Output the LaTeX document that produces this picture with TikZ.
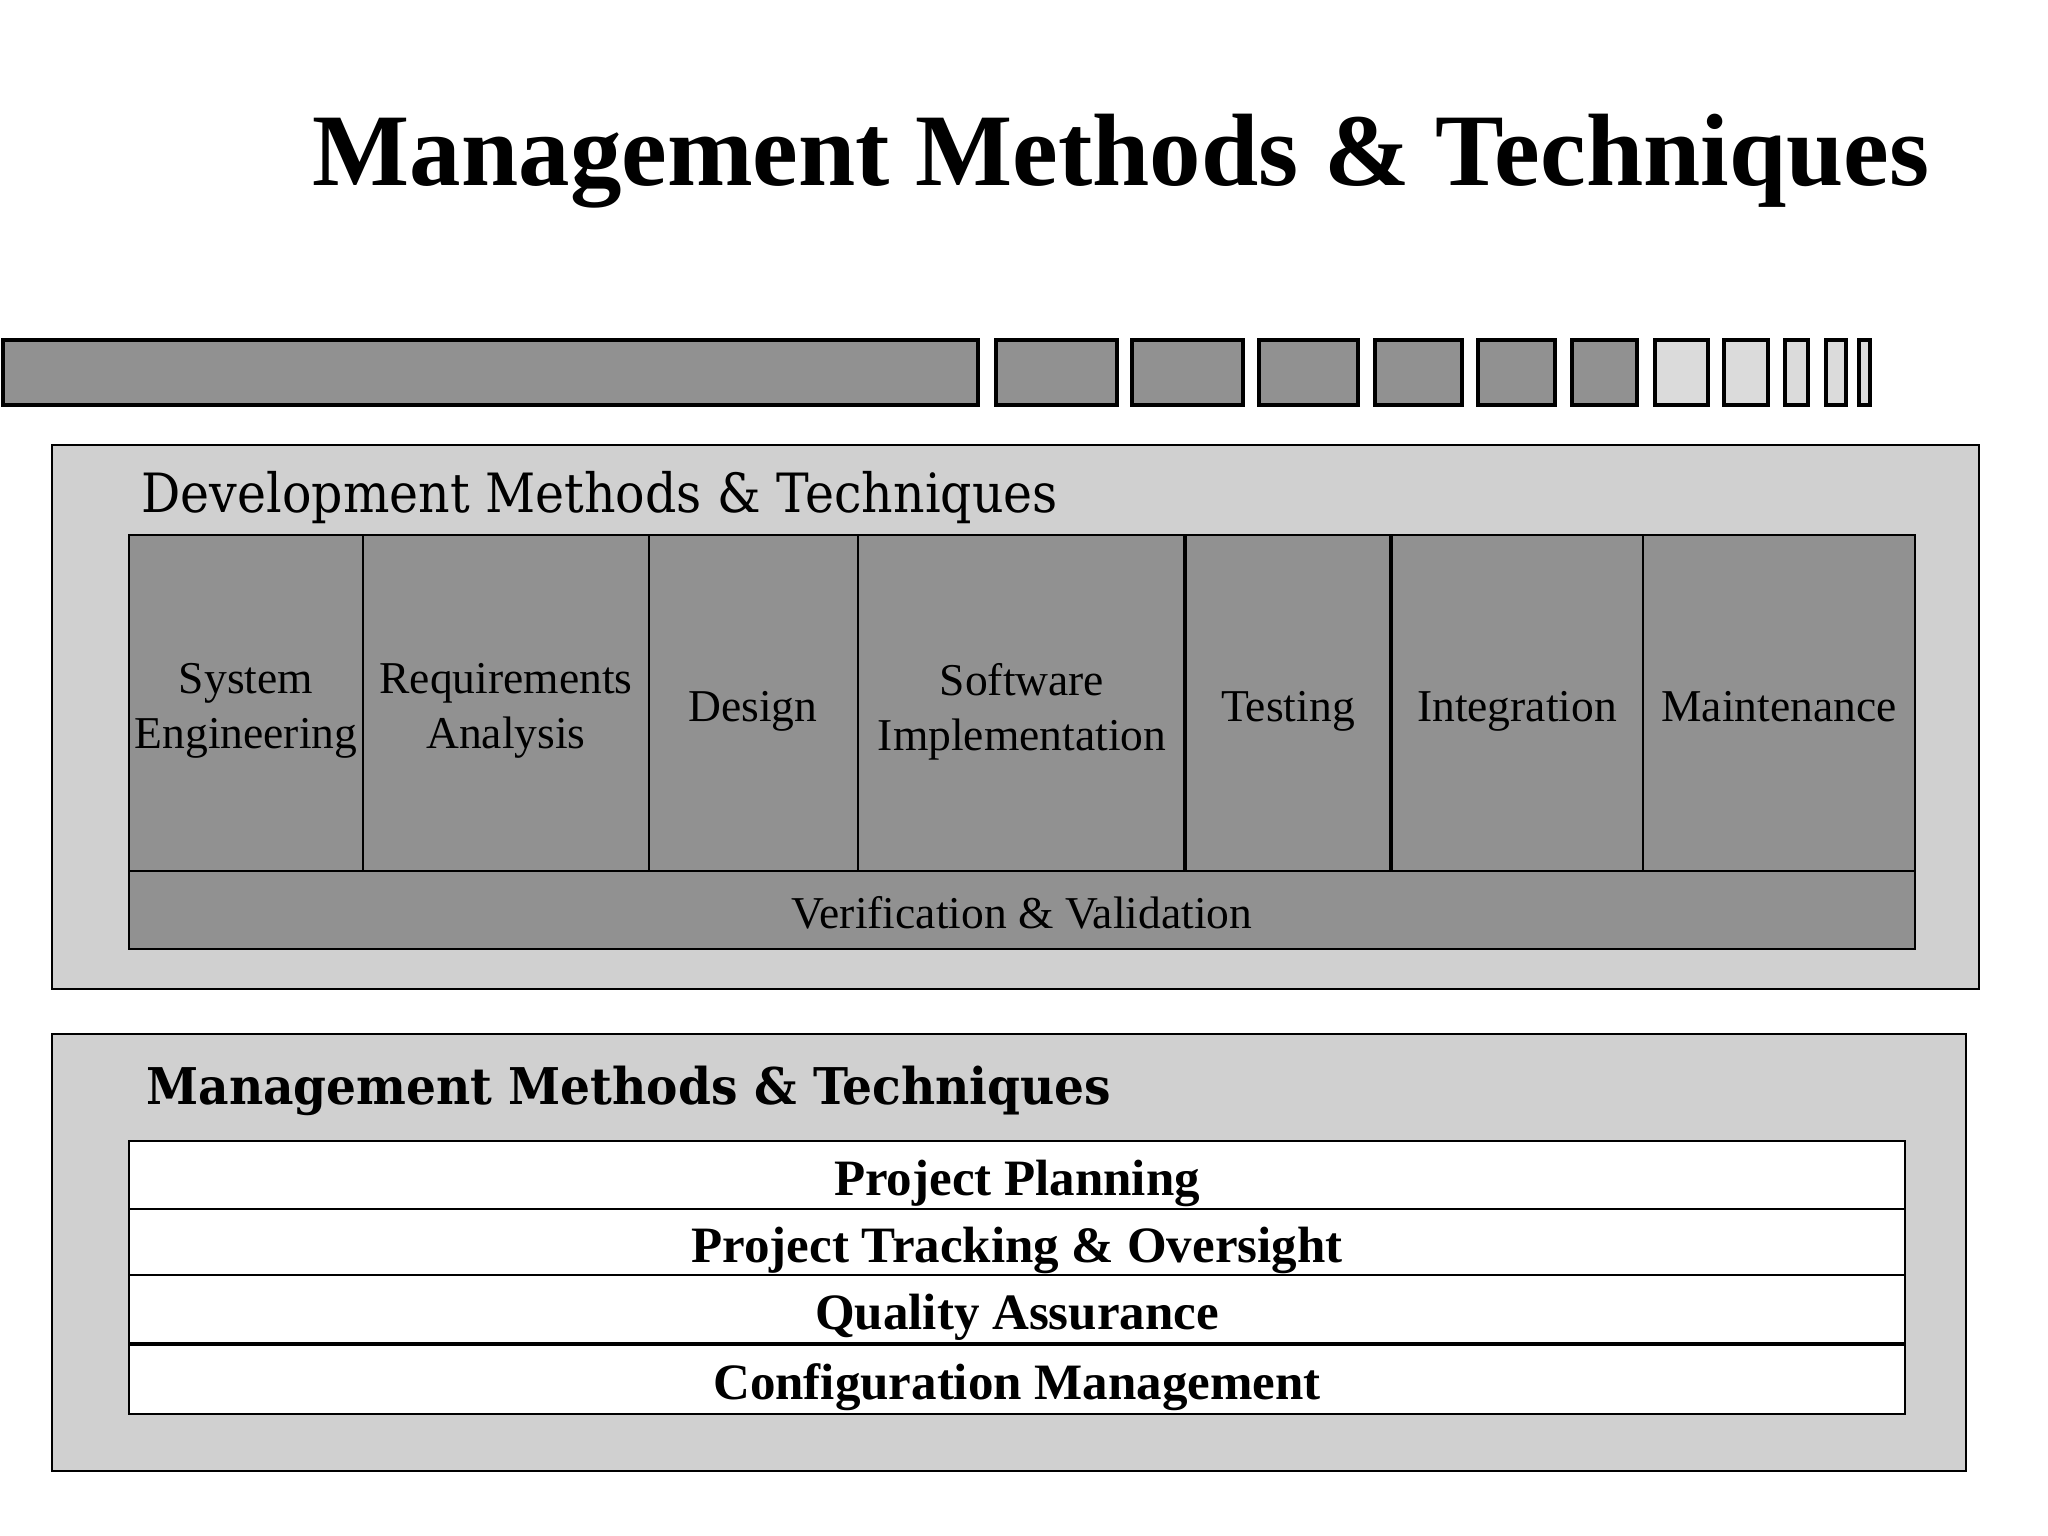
\documentclass[tikz,border=0pt]{standalone}
\usepackage{fontspec}
\setmainfont{Liberation Serif}
\newfontfamily\schfont[FakeStretch=0.905]{DejaVu Serif}
\newfontfamily\schboldfont[FakeStretch=0.93]{DejaVu Serif Bold}
\usetikzlibrary{positioning}

\definecolor{boxgray}{gray}{0.57}
\definecolor{panelgray}{gray}{0.815}
\definecolor{palegray}{gray}{0.86}

\begin{document}
\begin{tikzpicture}[x=0.01cm, y=-0.01cm,
  dark/.style={draw=black, fill=boxgray, line width=0.9pt},
  light/.style={draw=black, fill=palegray, line width=0.9pt},
  panel/.style={draw=black, fill=panelgray, line width=0.7pt},
  cell/.style={draw=black, fill=boxgray, line width=0.7pt},
  row/.style={draw=black, fill=white, line width=0.7pt},
  celltext/.style={align=center, font=\fontsize{12.95}{15.6}\selectfont},
  rowtext/.style={font=\bfseries\fontsize{14.5}{16}\selectfont}]

\useasboundingbox (0,0) rectangle (2048,1536);

% title
\node[anchor=base, font=\bfseries\fontsize{29.25}{34}\selectfont] (title) at (1121,185)
  {Management Methods \& Techniques};

% strip of blocks
\foreach \a/\b in {3/978, 996/1117, 1132/1243, 1259/1358, 1375/1462, 1478/1555, 1572/1637}
  \draw[dark] (\a,340) rectangle (\b,405);
\foreach \a/\b in {1655/1708, 1724/1768, 1785/1808, 1826/1846, 1859/1870}
  \draw[light] (\a,340) rectangle (\b,405);

% development panel
\draw[panel] (52,445) rectangle (1979,989);
\node[anchor=base west, font=\schfont\fontsize{15.4}{18}\selectfont] (devtitle) at (129,512)
  {Development Methods \& Techniques};
\draw[cell] (129,535) rectangle (1915,949);
\draw[cell] (129,871) -- (1915,871);
\foreach \x in {363, 649, 858, 1643}
  \draw[cell] (\x,535) -- (\x,871);
\foreach \x in {1185, 1391}
  \draw[cell, line width=1.2pt] (\x,535) -- (\x,871);

\node[celltext] (syseng) at (246,711) {System\\Engineering};
\node[celltext] (reqan) at (506,711) {Requirements\\Analysis};
\node[celltext] (design) at (753,711) {Design};
\node[celltext] (swimpl) at (1022,712) {Software\\Implementation};
\node[celltext] (testing) at (1288,711) {Testing};
\node[celltext] (integr) at (1517,711) {Integration};
\node[celltext] (maint) at (1779,707) {Maintenance};
\node[celltext] (vandv) at (1022,913) {Verification \& Validation};

% management panel
\draw[panel] (52,1034) rectangle (1966,1471);
\node[anchor=base west, font=\schboldfont\fontsize{14.4}{17}\selectfont] (mgttitle) at (134,1104)
  {Management Methods \& Techniques};
\draw[row] (129,1141) rectangle (1905,1414);
\foreach \y in {1209, 1275}
  \draw[row] (129,\y) -- (1905,\y);
\draw[row, line width=1.2pt] (129,1344) -- (1905,1344);

\node[rowtext] (planning) at (1017,1183) {Project Planning};
\node[rowtext] (tracking) at (1017,1250) {Project Tracking \& Oversight};
\node[rowtext] (qa) at (1017,1317) {Quality Assurance};
\node[rowtext] (config) at (1017,1387) {Configuration Management};

\end{tikzpicture}
\end{document}
